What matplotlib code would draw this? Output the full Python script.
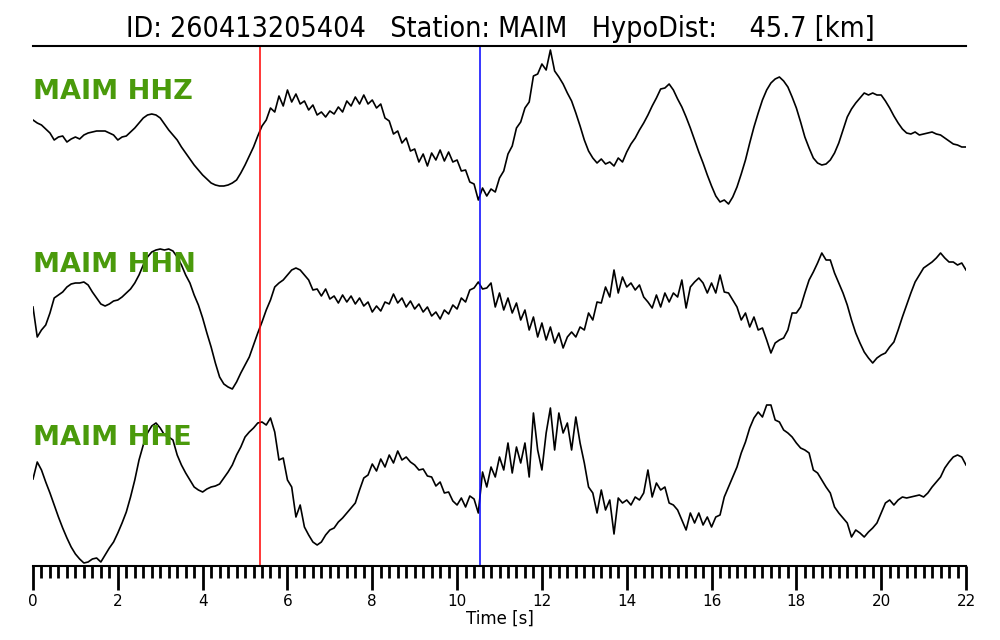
import numpy as np
import matplotlib
matplotlib.use('Agg')
import matplotlib.pyplot as plt
from matplotlib.ticker import MultipleLocator

# trace samples, 0.1 s apart (amplitude, arbitrary units, positive up)
DT = 0.1
hhz = [6, 3, 1, -3, -7, -14, -11, -10, -16, -13,
       -11, -13, -9, -7, -6, -5, -5, -5, -7, -9,
       -14, -11, -10, -6, -2, 3, 8, 11, 12, 11,
       8, 2, -4, -9, -14, -21, -27, -33, -39, -44,
       -49, -53, -57, -59, -60, -60, -59, -57, -54, -47,
       -39, -30, -21, -10, 0, 6, 18, 14, 30, 20,
       36, 24, 32, 22, 25, 16, 21, 11, 14, 9,
       15, 12, 19, 14, 25, 20, 29, 22, 31, 22,
       26, 18, 22, 8, 5, -8, -5, -17, -12, -25,
       -23, -36, -28, -40, -27, -34, -24, -35, -26, -36,
       -34, -45, -44, -56, -58, -74, -62, -70, -63, -66,
       -52, -45, -28, -20, -2, 4, 18, 24, 50, 52,
       62, 56, 76, 55, 49, 42, 33, 25, 13, 0,
       -14, -25, -32, -37, -33, -38, -36, -40, -32, -36,
       -26, -18, -12, -4, 3, 11, 20, 28, 37, 38,
       42, 36, 27, 19, 9, -2, -14, -26, -37, -49,
       -60, -70, -76, -74, -78, -71, -61, -48, -34, -17,
       -1, 13, 26, 36, 43, 47, 49, 45, 39, 29,
       18, 4, -11, -22, -32, -37, -39, -38, -34, -27,
       -17, -4, 9, 17, 23, 28, 33, 31, 33, 31,
       31, 25, 18, 10, 3, -3, -7, -8, -6, -9,
       -8, -7, -6, -8, -9, -12, -15, -18, -19, -21,
       -21]

hhn = [13, -17, -10, -5, 7, 22, 25, 28, 33, 36,
       37, 37, 38, 35, 28, 22, 16, 14, 16, 19,
       20, 23, 27, 31, 37, 45, 55, 63, 68, 70,
       71, 70, 71, 69, 63, 55, 45, 37, 25, 15,
       2, -13, -27, -43, -57, -64, -67, -69, -62, -53,
       -45, -37, -25, -13, -2, 10, 20, 33, 37, 40,
       45, 50, 52, 50, 45, 40, 30, 31, 24, 31,
       21, 24, 17, 25, 18, 24, 16, 22, 14, 18,
       8, 14, 9, 18, 16, 26, 17, 22, 13, 19,
       11, 16, 8, 13, 4, 8, 1, 10, 6, 15,
       11, 22, 18, 30, 32, 38, 31, 32, 37, 13,
       27, 10, 22, 7, 17, 0, 10, -10, 3, -17,
       -3, -20, -7, -23, -13, -28, -17, -12, -17, -7,
       -10, 7, 0, 18, 17, 33, 23, 50, 27, 43,
       33, 37, 30, 35, 23, 18, 12, 25, 13, 27,
       18, 27, 23, 40, 12, 33, 38, 42, 37, 27,
       37, 27, 45, 28, 27, 20, 13, 0, 7, -7,
       3, -10, -8, -20, -33, -23, -20, -18, -10, 7,
       7, 13, 27, 40, 48, 57, 67, 60, 60, 47,
       37, 27, 15, 0, -13, -23, -32, -38, -43, -38,
       -35, -33, -27, -22, -10, 3, 15, 27, 38, 45,
       52, 55, 58, 62, 67, 62, 58, 58, 55, 57,
       50]

hhe = [5, 22, 14, 2, -9, -21, -33, -44, -54, -63,
       -70, -75, -79, -78, -75, -74, -78, -71, -64, -58,
       -49, -39, -28, -13, 4, 24, 39, 51, 58, 61,
       56, 49, 47, 44, 29, 19, 11, 4, -3, -6,
       -8, -5, -3, -2, 0, 6, 12, 19, 29, 37,
       47, 52, 56, 61, 62, 59, 66, 52, 24, 26,
       4, -3, -33, -21, -43, -51, -58, -61, -58, -51,
       -46, -44, -38, -34, -29, -24, -19, -6, 6, 9,
       20, 13, 25, 17, 29, 21, 33, 24, 27, 22,
       19, 14, 15, 8, 7, -2, 2, -9, -8, -17,
       -21, -14, -23, -12, -15, -29, 12, -3, 17, 7,
       27, 14, 41, 11, 37, 21, 41, 7, 71, 34,
       14, 51, 76, 34, 71, 51, 61, 34, 67, 41,
       21, -3, -9, -29, -6, -26, -16, -50, -14, -19,
       -16, -21, -13, -16, -9, 14, -13, 1, -6, -3,
       -19, -21, -26, -36, -46, -29, -39, -29, -41, -33,
       -43, -33, -31, -13, -3, 7, 17, 31, 42, 56,
       66, 72, 67, 79, 79, 64, 62, 54, 51, 47,
       41, 36, 34, 31, 14, 11, 4, -3, -9, -23,
       -29, -34, -39, -53, -46, -49, -53, -48, -44, -39,
       -29, -19, -16, -21, -16, -13, -14, -13, -12, -11,
       -13, -9, -3, 2, 7, 16, 22, 27, 29, 27,
       19]

traces = [hhz, hhn, hhe]
names = ['MAIM HHZ', 'MAIM HHN', 'MAIM HHE']
p_pick = 5.35
s_pick = 10.54
title = 'ID: 260413205404   Station: MAIM   HypoDist:    45.7 [km]'

# layout (vertical positions of traces / labels)
offsets = [-126, -320, -484]
label_y = [-92, -265, -438]

fig = plt.figure(figsize=(10, 6.4), dpi=100)
ax = fig.add_axes([0.033, 1 - 566 / 640, 0.933, (566 - 46) / 640])

for tr, off in zip(traces, offsets):
    t = np.arange(len(tr)) * DT
    ax.plot(t, np.array(tr) + off, color='black', lw=1.2)

for name, ly in zip(names, label_y):
    ax.text(0, ly, name, color='#4a9a0b', fontsize=19.5, fontweight='bold',
            ha='left', va='center')

ax.axvline(p_pick, color='red', lw=1.1)
ax.axvline(s_pick, color='blue', lw=1.1)

ax.set_xlim(0, 22)
ax.set_ylim(-566, -46)
ax.set_yticks([])
for s in ['left', 'right']:
    ax.spines[s].set_visible(False)
ax.spines['top'].set_linewidth(1.5)
ax.spines['bottom'].set_linewidth(1.5)

ax.xaxis.set_major_locator(MultipleLocator(2))
ax.xaxis.set_minor_locator(MultipleLocator(0.2))
ax.tick_params(axis='x', which='major', length=17, width=2, labelsize=11, pad=3)
ax.tick_params(axis='x', which='minor', length=8.5, width=2)
ax.set_xlabel('Time [s]', fontsize=12, labelpad=1)

fig.suptitle(title, fontsize=20.5, y=0.977, fontstretch='condensed')

fig.savefig('out.png', dpi=100)
